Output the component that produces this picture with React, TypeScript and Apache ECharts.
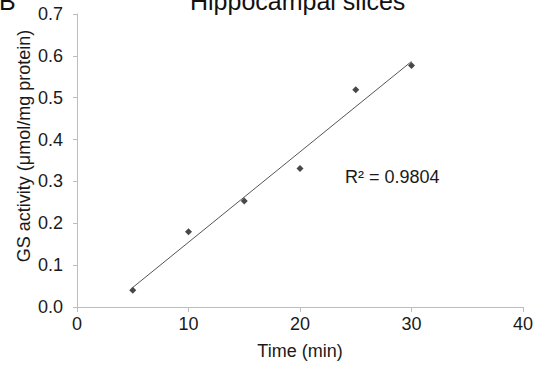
import React, { useEffect, useRef } from "react";
import * as echarts from "echarts";

const timeMin = [5, 10, 15, 20, 25, 30];
const gsActivity = [0.04, 0.18, 0.253, 0.331, 0.519, 0.577];
const xTicks = [0, 10, 20, 30, 40];
const yTicks = [0, 0.1, 0.2, 0.3, 0.4, 0.5, 0.6, 0.7];
const rSquaredLabel = "R² = 0.9804";
const titleText = "Hippocampal slices";
const panelLetter = "B";

const FONT = "'Liberation Sans', Arial, sans-serif";

function regression(xs: number[], ys: number[]) {
  const n = xs.length;
  const mx = xs.reduce((a, b) => a + b, 0) / n;
  const my = ys.reduce((a, b) => a + b, 0) / n;
  let sxy = 0;
  let sxx = 0;
  for (let i = 0; i < n; i++) {
    sxy += (xs[i] - mx) * (ys[i] - my);
    sxx += (xs[i] - mx) * (xs[i] - mx);
  }
  const slope = sxy / sxx;
  return { slope, intercept: my - slope * mx };
}

export default function App() {
  const ref = useRef<HTMLDivElement>(null);
  useEffect(() => {
    if (!ref.current) return;
    const chart = echarts.init(ref.current, null, { renderer: "svg" });
    const { slope, intercept } = regression(timeMin, gsActivity);
    const x0 = Math.min(...timeMin);
    const x1 = Math.max(...timeMin);
    const trend = [
      [x0, intercept + slope * x0],
      [x1, intercept + slope * x1],
    ];
    chart.setOption({
      animation: false,
      backgroundColor: "#ffffff",
      grid: { left: 77, right: 24, top: 14, bottom: 63, containLabel: false },
      xAxis: {
        type: "value",
        min: xTicks[0],
        max: xTicks[xTicks.length - 1],
        interval: 10,
        name: "Time (min)",
        nameLocation: "middle",
        nameGap: 35,
        nameTextStyle: { fontFamily: FONT, fontSize: 18, color: "#1a1a1a" },
        axisLine: { show: true, lineStyle: { color: "#bdbdbd", width: 1 } },
        axisTick: { show: true, length: 5, lineStyle: { color: "#bdbdbd" } },
        axisLabel: { fontFamily: FONT, fontSize: 18, color: "#1a1a1a", margin: 8 },
        splitLine: { show: false },
      },
      yAxis: {
        type: "value",
        min: yTicks[0],
        max: yTicks[yTicks.length - 1],
        interval: 0.1,
        axisLine: { show: true, lineStyle: { color: "#bdbdbd", width: 1 } },
        axisTick: { show: true, length: 4, lineStyle: { color: "#bdbdbd" } },
        axisLabel: {
          fontFamily: FONT,
          fontSize: 18,
          color: "#1a1a1a",
          margin: 14,
          formatter: (v: number) => v.toFixed(1),
        },
        splitLine: { show: false },
      },
      graphic: [
        {
          type: "text",
          left: 300 - 110,
          top: -12,
          style: { text: titleText, font: `25px ${FONT}`, fill: "#111" },
        },
        {
          type: "text",
          left: -1,
          top: -12,
          style: { text: panelLetter, font: `25px ${FONT}`, fill: "#111" },
        },
        {
          type: "text",
          x: 24,
          y: 146,
          rotation: Math.PI / 2,
          style: {
            text: "GS activity (μmol/mg protein)",
            font: `18px ${FONT}`,
            fill: "#1a1a1a",
            align: "center",
            verticalAlign: "middle",
          },
        },
        {
          type: "text",
          x: 345,
          y: 177,
          style: {
            text: rSquaredLabel,
            font: `18px ${FONT}`,
            fill: "#1a1a1a",
            align: "left",
            verticalAlign: "middle",
          },
        },
      ],
      series: [
        {
          type: "line",
          data: trend,
          symbol: "none",
          lineStyle: { color: "#555555", width: 1 },
          z: 2,
        },
        {
          type: "scatter",
          data: timeMin.map((t, i) => [t, gsActivity[i]]),
          symbol: "diamond",
          symbolSize: 7,
          itemStyle: { color: "#1a1a1a" },
          z: 3,
        },
      ],
    });
    return () => chart.dispose();
  }, []);
  return <div ref={ref} style={{ width: 547, height: 370, position: "absolute", left: 0, top: 0 }} />;
}
